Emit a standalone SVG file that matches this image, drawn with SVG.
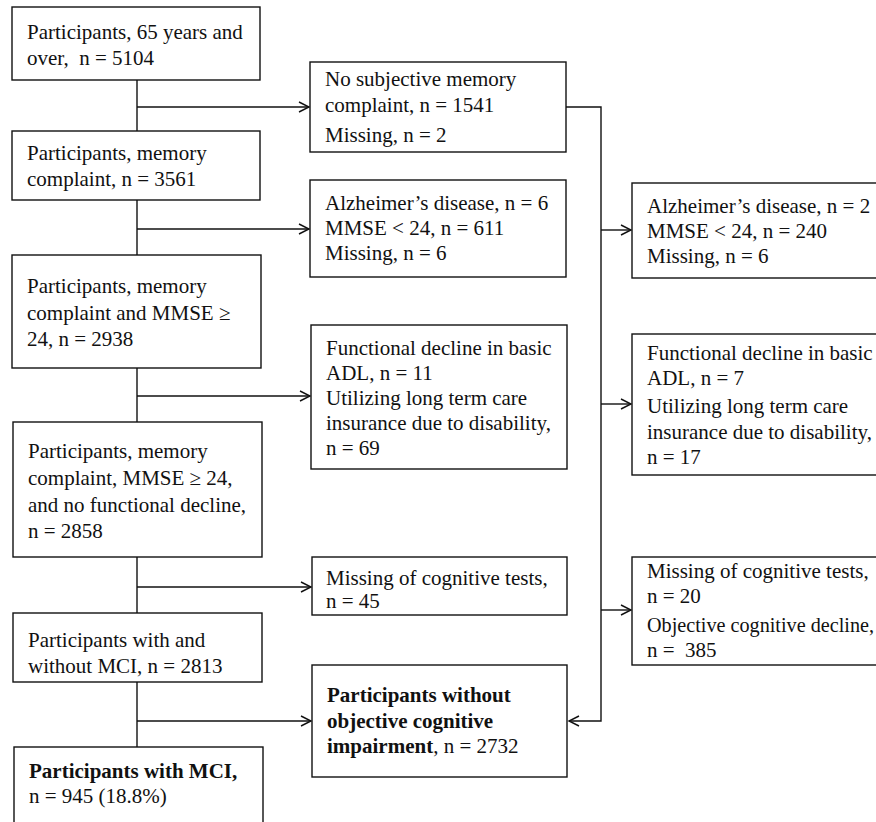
<svg xmlns="http://www.w3.org/2000/svg" width="876" height="822" viewBox="0 0 876 822">
<defs>
<style>
.box{fill:#fff;stroke:#111;stroke-width:1.4}
.t{font-family:"Liberation Serif","Times New Roman",serif;font-size:21px;fill:#111}
.b{font-weight:bold}
.c{fill:none;stroke:#111;stroke-width:1.4}
</style>
<marker id="ah" markerUnits="userSpaceOnUse" markerWidth="14" markerHeight="14" refX="11" refY="6" orient="auto">
<path d="M1,1 L11,6 L1,11" fill="none" stroke="#111" stroke-width="1.4"/>
</marker>
</defs>
<rect width="876" height="822" fill="#fff"/>
<g id="connectors">
<line class="c" x1="137" y1="80" x2="137" y2="131"/>
<line class="c" x1="137" y1="200" x2="137" y2="255"/>
<line class="c" x1="137" y1="368" x2="137" y2="422"/>
<line class="c" x1="137" y1="557" x2="137" y2="613"/>
<line class="c" x1="137" y1="682" x2="137" y2="747"/>
<line class="c" x1="137" y1="107" x2="309" y2="107" marker-end="url(#ah)"/>
<line class="c" x1="137" y1="229" x2="309" y2="229" marker-end="url(#ah)"/>
<line class="c" x1="137" y1="396" x2="310" y2="396" marker-end="url(#ah)"/>
<line class="c" x1="137" y1="587" x2="311" y2="587" marker-end="url(#ah)"/>
<line class="c" x1="137" y1="721" x2="311" y2="721" marker-end="url(#ah)"/>
<polyline class="c" points="566,107 601,107 601,721 569,721" marker-end="url(#ah)"/>
<line class="c" x1="601" y1="230" x2="631" y2="230" marker-end="url(#ah)"/>
<line class="c" x1="601" y1="404" x2="631" y2="404" marker-end="url(#ah)"/>
<line class="c" x1="601" y1="610" x2="631" y2="610" marker-end="url(#ah)"/>
</g>
<g id="n1"><rect class="box" x="12" y="7" width="248" height="73"/>
<text class="t" x="27" y="39">Participants, 65 years and</text>
<text class="t" x="27" y="65" xml:space="preserve">over,  n = 5104</text></g>
<g id="n2"><rect class="box" x="12" y="131" width="248" height="69"/>
<text class="t" x="27" y="160">Participants, memory</text>
<text class="t" x="27" y="186">complaint, n = 3561</text></g>
<g id="n3"><rect class="box" x="12" y="255" width="249" height="113"/>
<text class="t" x="27" y="293">Participants, memory</text>
<text class="t" x="27" y="320">complaint and MMSE ≥</text>
<text class="t" x="27" y="346">24, n = 2938</text></g>
<g id="n4"><rect class="box" x="13" y="422" width="249" height="135"/>
<text class="t" x="28" y="458">Participants, memory</text>
<text class="t" x="28" y="485">complaint, MMSE ≥ 24,</text>
<text class="t" x="28" y="512">and no functional decline,</text>
<text class="t" x="28" y="538">n = 2858</text></g>
<g id="n5"><rect class="box" x="13" y="613" width="249" height="69"/>
<text class="t" x="28" y="647">Participants with and</text>
<text class="t" x="28" y="673">without MCI, n = 2813</text></g>
<g id="n6"><rect class="box" x="14" y="747" width="249" height="90"/>
<text class="t b" x="29" y="778">Participants with MCI,</text>
<text class="t" x="29" y="803">n = 945 (18.8%)</text></g>
<g id="m1"><rect class="box" x="310" y="62" width="256" height="90"/>
<text class="t" x="325" y="86">No subjective memory</text>
<text class="t" x="325" y="112">complaint, n = 1541</text>
<text class="t" x="325" y="142">Missing, n = 2</text></g>
<g id="m2"><rect class="box" x="310" y="180" width="256" height="97"/>
<text class="t" x="325" y="210">Alzheimer’s disease, n = 6</text>
<text class="t" x="325" y="235">MMSE &lt; 24, n = 611</text>
<text class="t" x="325" y="260">Missing, n = 6</text></g>
<g id="m3"><rect class="box" x="311" y="325" width="256" height="144"/>
<text class="t" x="326" y="355">Functional decline in basic</text>
<text class="t" x="326" y="380">ADL, n = 11</text>
<text class="t" x="326" y="405">Utilizing long term care</text>
<text class="t" x="326" y="430">insurance due to disability,</text>
<text class="t" x="326" y="455">n = 69</text></g>
<g id="m4"><rect class="box" x="312" y="557" width="255" height="58"/>
<text class="t" x="326" y="585">Missing of cognitive tests,</text>
<text class="t" x="326" y="608">n = 45</text></g>
<g id="m5"><rect class="box" x="312" y="665" width="255" height="112"/>
<text class="t b" x="327" y="702">Participants without</text>
<text class="t b" x="327" y="728">objective cognitive</text>
<text class="t" x="327" y="753"><tspan class="b">impairment</tspan>, n = 2732</text></g>
<g id="r1"><rect class="box" x="632" y="183" width="260" height="95"/>
<text class="t" x="647" y="213">Alzheimer’s disease, n = 2</text>
<text class="t" x="647" y="238">MMSE &lt; 24, n = 240</text>
<text class="t" x="647" y="263">Missing, n = 6</text></g>
<g id="r2"><rect class="box" x="632" y="334" width="260" height="141"/>
<text class="t" x="647" y="360">Functional decline in basic</text>
<text class="t" x="647" y="385">ADL, n = 7</text>
<text class="t" x="647" y="413">Utilizing long term care</text>
<text class="t" x="647" y="439">insurance due to disability,</text>
<text class="t" x="647" y="464">n = 17</text></g>
<g id="r3"><rect class="box" x="632" y="557" width="260" height="108"/>
<text class="t" x="647" y="578">Missing of cognitive tests,</text>
<text class="t" x="647" y="603">n = 20</text>
<text class="t" x="647" y="632" style="font-size:20.2px">Objective cognitive decline,</text>
<text class="t" x="647" y="657" xml:space="preserve">n =  385</text></g>
</svg>
